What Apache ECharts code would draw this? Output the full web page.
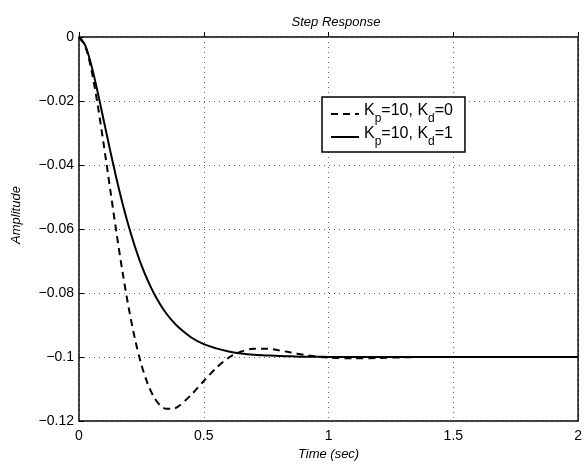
<!DOCTYPE html>
<html>
	<head>
		<meta charset="utf-8">
		<title>Step Response</title>
	</head>
	<body style="margin:0">
		<div id="main" style="width: 585px;height:466px;"></div>
	</body>
	<script src="https://cdn.jsdelivr.net/npm/echarts@6/dist/echarts.min.js"></script>
	<script type="text/javascript">
		'use strict'

		// time samples (sec)
		var times = [0, 0.025, 0.05, 0.075, 0.1, 0.125, 0.15, 0.175, 0.2, 0.225, 0.25, 0.275, 0.3, 0.325,
			0.35, 0.375, 0.4, 0.45, 0.5, 0.55, 0.6, 0.65, 0.7, 0.75, 0.8, 0.85, 0.9, 0.95, 1.0, 1.1, 1.2,
			1.3, 1.4, 1.6, 1.8, 2.0];
		// Kp=10, Kd=0 (dashed)
		var kd0Values = [0, -0.0029, -0.0104, -0.0213, -0.0341, -0.0476, -0.0611, -0.0737, -0.0850, -0.0946,
			-0.1024, -0.1083, -0.1125, -0.1151, -0.1162, -0.1162, -0.1153, -0.1118, -0.1075, -0.1034,
			-0.1002, -0.0983, -0.0974, -0.0974, -0.0979, -0.0986, -0.0993, -0.0999, -0.1002, -0.1004,
			-0.1003, -0.1001, -0.1, -0.1, -0.1, -0.1];
		// Kp=10, Kd=1 (solid)
		var kd1Values = [0, -0.0026, -0.0090, -0.0173, -0.0264, -0.0355, -0.0442, -0.0522, -0.0594, -0.0657,
			-0.0713, -0.0760, -0.0801, -0.0835, -0.0864, -0.0888, -0.0908, -0.0939, -0.0960, -0.0973,
			-0.0983, -0.0989, -0.0993, -0.0995, -0.0997, -0.0998, -0.0999, -0.0999, -0.1, -0.1,
			-0.1, -0.1, -0.1, -0.1, -0.1, -0.1];
		var xTicks = [0, 0.5, 1, 1.5, 2];
		var seriesNames = ['kd0', 'kd1'];
		var legendLabels = {
			kd0: '{n|K}{s|p}{n|=10, K}{s|d}{n|=0}',
			kd1: '{n|K}{s|p}{n|=10, K}{s|d}{n|=1}'
		};

		function pairs(vals) {
			var out = [];
			for (var i = 0; i < times.length; i++) {
				out.push([times[i], vals[i]]);
			}
			return out;
		}

		var font = 'Liberation Sans, Arial, sans-serif';
		var gridDots = { color: '#666', width: 1, type: [1, 4] };

		var myChart = echarts.init(document.getElementById('main'));
		var option = {
			animation: false,
			title: {
				text: 'Step Response',
				left: 331, top: 11, textAlign: 'center',
				textStyle: { fontFamily: font, fontSize: 13, fontStyle: 'italic', fontWeight: 'normal', color: '#000' }
			},
			grid: {
				left: 79, top: 37, right: 1, bottom: 44,
				show: true, borderColor: '#000', borderWidth: 1.5
			},
			legend: {
				data: seriesNames,
				orient: 'vertical',
				left: 322, top: 97,
				padding: [6, 12, 4, 8],
				itemGap: 1,
				itemWidth: 28, itemHeight: 14,
				backgroundColor: '#fff',
				borderColor: '#000', borderWidth: 1.5,
				itemStyle: { opacity: 0 },
				formatter: function (name) { return legendLabels[name]; },
				textStyle: {
					rich: {
						n: { fontFamily: font, fontSize: 16, color: '#000', verticalAlign: 'top', lineHeight: 16 },
						s: { fontFamily: font, fontSize: 12, color: '#000', verticalAlign: 'bottom', lineHeight: 22 }
					}
				}
			},
			xAxis: {
				type: 'value', min: 0, max: 2, interval: 0.5,
				name: 'Time (sec)', nameLocation: 'middle', nameGap: 27,
				nameTextStyle: { fontFamily: font, fontSize: 13, fontStyle: 'italic', color: '#000' },
				axisLine: { show: false },
				axisTick: { inside: true, length: 5, lineStyle: { color: '#000' } },
				axisLabel: {
					fontFamily: font, fontSize: 14, color: '#000', margin: 8,
					formatter: function (v) { return xTicks.indexOf(v) >= 0 ? String(v) : ''; }
				},
				splitLine: { show: true, lineStyle: gridDots }
			},
			yAxis: {
				type: 'value', min: -0.12, max: 0, interval: 0.02,
				name: 'Amplitude', nameLocation: 'middle', nameGap: 56,
				nameTextStyle: { fontFamily: font, fontSize: 13, fontStyle: 'italic', color: '#000', padding: [0, 0, 0, 28] },
				axisLine: { show: false },
				axisTick: { inside: true, length: 5, lineStyle: { color: '#000' } },
				axisLabel: {
					fontFamily: font, fontSize: 14, color: '#000', margin: 5,
					formatter: function (v) {
						if (Math.abs(v) < 1e-9) return '0';
						return '\u2212' + Math.abs(v).toFixed(2).replace(/0+$/, '');
					}
				},
				splitLine: { show: true, lineStyle: gridDots }
			},
			series: [{
				name: 'kd0',
				type: 'line',
				showSymbol: false,
				symbol: 'none',
				smooth: 0.3,
				lineStyle: { color: '#000', width: 2, type: [7, 5] },
				itemStyle: { color: '#000' },
				data: pairs(kd0Values)
			}, {
				name: 'kd1',
				type: 'line',
				showSymbol: false,
				symbol: 'none',
				smooth: 0.3,
				lineStyle: { color: '#000', width: 2, type: 'solid' },
				itemStyle: { color: '#000' },
				data: pairs(kd1Values)
			}]
		};

		myChart.setOption(option);
	</script>
</html>
